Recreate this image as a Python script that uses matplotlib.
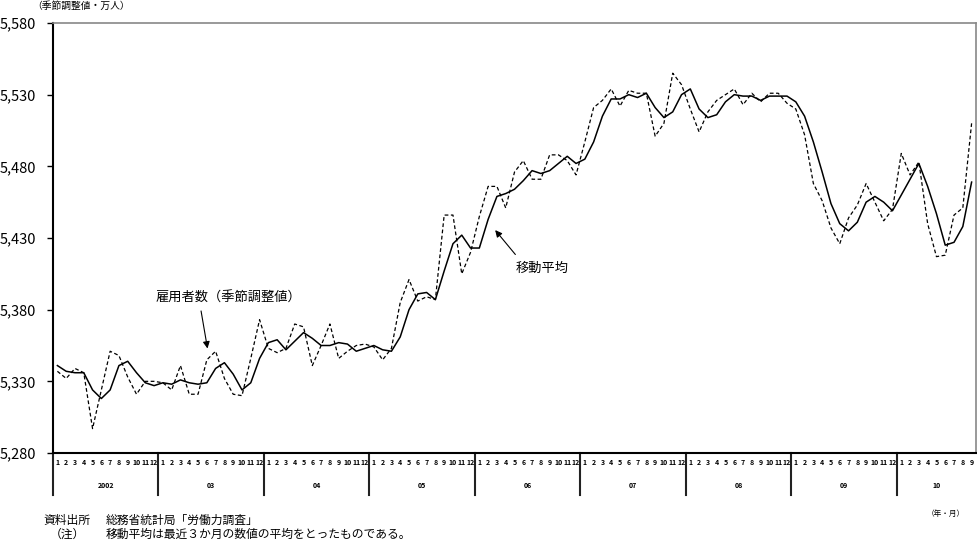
import numpy as np
import matplotlib
matplotlib.use('Agg')
import matplotlib.pyplot as plt
from matplotlib.ticker import FuncFormatter

plt.rcParams['font.family'] = ['Noto Sans CJK JP', 'DejaVu Sans']

years = ['2002', '03', '04', '05', '06', '07', '08', '09', '10']
months_per_year = [12, 12, 12, 12, 12, 12, 12, 12, 9]

# 雇用者数（季節調整値）, 万人
employees = [
    5337, 5332, 5339, 5336, 5297, 5324, 5351, 5348, 5333, 5321, 5330, 5330,
    5329, 5324, 5341, 5321, 5321, 5345, 5351, 5332, 5321, 5320, 5346, 5373,
    5353, 5350, 5353, 5370, 5368, 5341, 5355, 5370, 5346, 5351, 5355, 5356,
    5354, 5345, 5353, 5385, 5401, 5386, 5389, 5387, 5446, 5446, 5405, 5420,
    5445, 5466, 5466, 5451, 5476, 5484, 5471, 5471, 5488, 5488, 5484, 5474,
    5497, 5521, 5526, 5534, 5522, 5533, 5531, 5531, 5501, 5510, 5545, 5537,
    5520, 5504, 5518, 5526, 5530, 5534, 5523, 5531, 5525, 5531, 5531, 5524,
    5520, 5502, 5468, 5456, 5437, 5426, 5444, 5453, 5468, 5455, 5442, 5450,
    5489, 5474, 5483, 5440, 5417, 5418, 5446, 5451, 5510,
]

# 移動平均（3か月）
moving_avg = [
    5341, 5337, 5336, 5336, 5324, 5318, 5324, 5341, 5344, 5336, 5329, 5327,
    5329, 5328, 5331, 5329, 5328, 5329, 5339, 5343, 5335, 5324, 5329, 5346,
    5357, 5359, 5352, 5358, 5364, 5360, 5355, 5355, 5357, 5356, 5351, 5353,
    5355, 5352, 5351, 5361, 5380, 5391, 5392, 5387, 5407, 5426, 5432, 5423,
    5423, 5443, 5459, 5461, 5464, 5470, 5477, 5475, 5477, 5482, 5487, 5482,
    5485, 5497, 5515, 5527, 5527, 5530, 5528, 5531, 5521, 5514, 5518, 5530,
    5534, 5520, 5514, 5516, 5525, 5530, 5529, 5529, 5526, 5529, 5529, 5529,
    5525, 5515, 5497, 5476, 5454, 5440, 5435, 5441, 5455, 5459, 5455, 5449,
    5460, 5471, 5482, 5466, 5447, 5425, 5427, 5438, 5469,
]

x = np.arange(len(employees))

fig = plt.figure(figsize=(9.78, 5.41), dpi=100)
ax = fig.add_axes([53 / 978, 1 - 453 / 541, (976 - 53) / 978, (453 - 23) / 541])

ax.plot(x, employees, color='black', lw=0.9, ls=(0, (3, 2)))
ax.plot(x, moving_avg, color='black', lw=1.1)

ax.set_xlim(-0.5, len(x) - 0.5)
ax.set_ylim(5280, 5580)
ax.set_yticks(np.arange(5280, 5581, 50))
ax.yaxis.set_major_formatter(FuncFormatter(lambda v, p: f'{int(v):,}'))
ax.tick_params(axis='y', length=4, width=1, pad=8, labelsize=10.5)

month_labels = [str(m) for n in months_per_year for m in range(1, n + 1)]
ax.set_xticks(x)
ax.set_xticklabels(month_labels, fontsize=5, fontweight='bold')
ax.tick_params(axis='x', length=0, pad=4)

for side in ['top', 'right']:
    ax.spines[side].set_color('#888888')
    ax.spines[side].set_linewidth(1.2)
for side in ['left', 'bottom']:
    ax.spines[side].set_color('black')
    ax.spines[side].set_linewidth(1.5)

# year labels and dividers below the axis
trans = ax.get_xaxis_transform()
start = 0
for yr, n in zip(years, months_per_year):
    ax.text(start + (n - 1) / 2, -0.075, yr, transform=trans, ha='center',
            va='center', fontsize=5, fontweight='bold')
    ax.plot([start - 0.5, start - 0.5], [0, -0.098], transform=trans,
            color='#222222', lw=1.5, clip_on=False)
    start += n

ax.text(19.5, 5388, '雇用者数（季節調整値）', ha='center', va='center', fontsize=9.5)
ax.annotate('', xy=(17.13, 5351), xytext=(16.29, 5381),
            arrowprops=dict(arrowstyle='-|>', color='black', lw=0.8, mutation_scale=10))

ax.text(55.1, 5409, '移動平均', ha='center', va='center', fontsize=9.5)
ax.annotate('', xy=(49.6, 5437), xytext=(52.3, 5417),
            arrowprops=dict(arrowstyle='-|>', color='black', lw=0.8, mutation_scale=10))

fig.text(32 / 978, 1 - 6 / 541, '（季節調整値・万人）', fontsize=7, ha='left', va='center')
fig.text(946 / 978, 1 - 514 / 541, '（年・月）', fontsize=5.5, ha='center', va='center')

fig.text(43 / 978, 1 - 520 / 541, '資料出所', fontsize=8.5, ha='left', va='center')
fig.text(106 / 978, 1 - 520 / 541, '総務省統計局「労働力調査」', fontsize=8.5, ha='left', va='center')
fig.text(50 / 978, 1 - 534 / 541, '（注）', fontsize=8.5, ha='left', va='center')
fig.text(106 / 978, 1 - 534 / 541, '移動平均は最近３か月の数値の平均をとったものである。',
         fontsize=8.5, ha='left', va='center')

fig.savefig('out.png', dpi=100)
